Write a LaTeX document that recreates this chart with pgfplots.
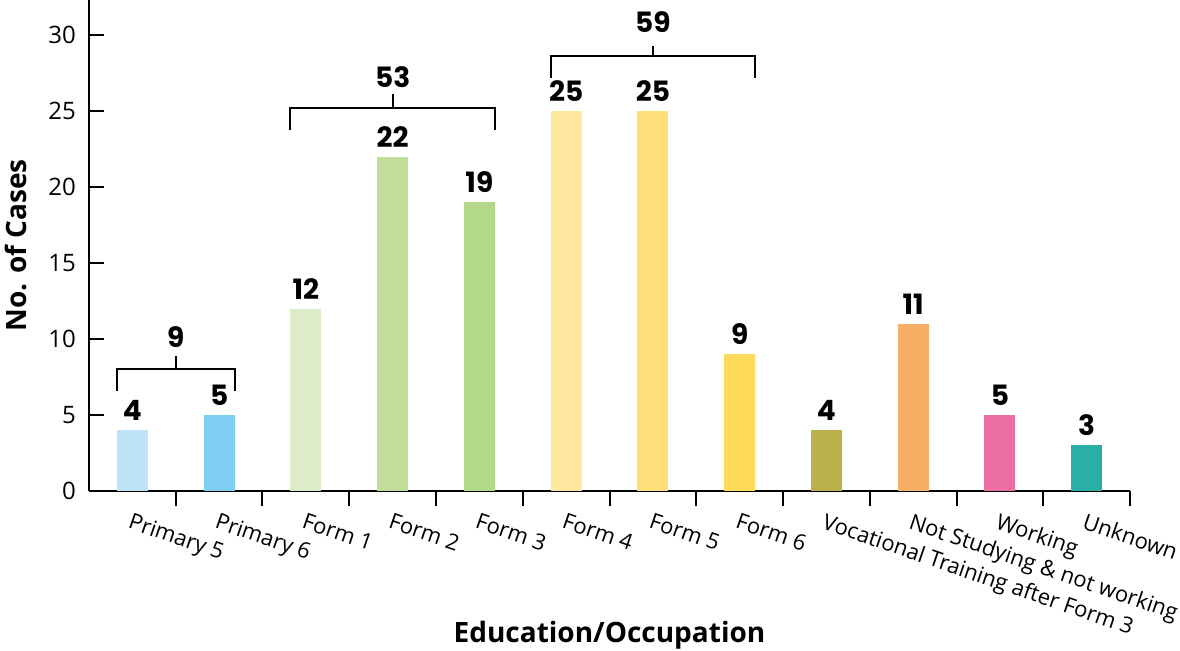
\documentclass[border=0pt]{standalone}
\usepackage{fontspec}
\setmainfont{Open Sans}
\newfontfamily\valfont{Poppins}
\usepackage{pgfplots}
\pgfplotsset{compat=1.18}
\definecolor{cA}{HTML}{BEE3F7}
\definecolor{cB}{HTML}{81CEF3}
\definecolor{cC}{HTML}{DDEBC8}
\definecolor{cD}{HTML}{C2DE9B}
\definecolor{cE}{HTML}{B3D88A}
\definecolor{cF}{HTML}{FFE7A0}
\definecolor{cG}{HTML}{FFDF7A}
\definecolor{cH}{HTML}{FFD95A}
\definecolor{cI}{HTML}{BCB04A}
\definecolor{cJ}{HTML}{F5B066}
\definecolor{cK}{HTML}{EA6EA1}
\definecolor{cL}{HTML}{2BAEA5}
\begin{document}
\begin{tikzpicture}
\begin{axis}[
  at={(0,0)}, anchor=south west,
  scale only axis, width=520.5pt, height=245.5pt,
  xmin=-0.5, xmax=11.5, ymin=0, ymax=32.3,
  clip=false,
  axis x line*=bottom, axis y line*=left,
  axis line style={line width=1.3pt},
  ytick={0,5,...,30},
  xtick={0,...,11},
  xticklabels={Primary 5,Primary 6,Form 1,Form 2,Form 3,Form 4,Form 5,Form 6,Vocational Training after Form 3,Not Studying \& not working,Working,Unknown},
  minor xtick={0.5,1.5,...,11.5},
  major x tick style={draw=none},
  tick style={line width=1pt, black},
  major tick length=7.5pt, minor tick length=7.5pt,
  tick align=inside,
  /pgf/number format/assume math mode=true,
  yticklabel style={xshift=-3pt, font=\fontsize{12}{14}\selectfont},
  xticklabel style={xshift=0pt, yshift=-3pt, rotate=-19, anchor=north west, inner sep=0pt, font=\fontsize{11}{13}\selectfont},
  xlabel={Education/Occupation}, ylabel={No. of Cases},
  label style={font=\bfseries\fontsize{14}{16}\selectfont},
  xlabel style={at={(axis description cs:0.5,-0.293)}, anchor=center},
  ylabel style={at={(axis description cs:-0.0701,0.5)}, anchor=center},
  ybar, bar width=15.5pt, bar shift=0pt,
  nodes near coords,
  every node near coord/.append style={font=\valfont\bfseries\fontsize{14}{14}\selectfont, inner sep=0pt, yshift=4.5pt, black},
]
\addplot[fill=cA, draw=none] coordinates {(0,4)};
\addplot[fill=cB, draw=none] coordinates {(1,5)};
\addplot[fill=cC, draw=none] coordinates {(2,12)};
\addplot[fill=cD, draw=none] coordinates {(3,22)};
\addplot[fill=cE, draw=none] coordinates {(4,19)};
\addplot[fill=cF, draw=none] coordinates {(5,25)};
\addplot[fill=cG, draw=none] coordinates {(6,25)};
\addplot[fill=cH, draw=none] coordinates {(7,9)};
\addplot[fill=cI, draw=none] coordinates {(8,4)};
\addplot[fill=cJ, draw=none] coordinates {(9,11)};
\addplot[fill=cK, draw=none] coordinates {(10,5)};
\addplot[fill=cL, draw=none] coordinates {(11,3)};
% brackets
\draw[line width=1pt] (axis cs:-0.179,6.6) |- (axis cs:1.179,8.0) -- (axis cs:1.179,6.6);
\draw[line width=1pt] (axis cs:0.5,8.0) -- (axis cs:0.5,8.9);
\node[font=\valfont\bfseries\fontsize{14}{14}\selectfont] at (axis cs:0.5,10.1) {9};
\draw[line width=1pt] (axis cs:1.821,23.75) |- (axis cs:4.179,25.2) -- (axis cs:4.179,23.75);
\draw[line width=1pt] (axis cs:3,25.2) -- (axis cs:3,26.1);
\node[font=\valfont\bfseries\fontsize{14}{14}\selectfont] at (axis cs:3,27.2) {53};
\draw[line width=1pt] (axis cs:4.821,27.2) |- (axis cs:7.179,28.6) -- (axis cs:7.179,27.2);
\draw[line width=1pt] (axis cs:6,28.6) -- (axis cs:6,29.3);
\node[font=\valfont\bfseries\fontsize{14}{14}\selectfont] at (axis cs:6,30.85) {59};
\end{axis}
\pgfresetboundingbox
\path (-44.5pt,-80pt) rectangle (545.5pt,245.5pt);
\end{tikzpicture}
\end{document}
